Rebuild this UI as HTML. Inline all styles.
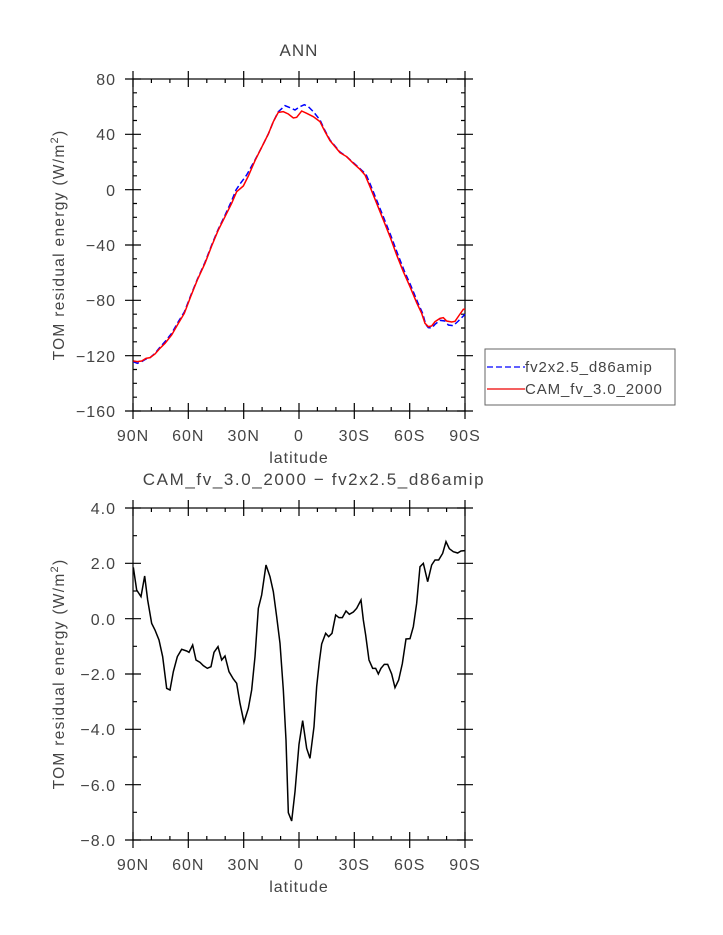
<!DOCTYPE html>
<html><head><style>body{margin:0;background:#fff}svg{display:block}text{font-family:"Liberation Sans",sans-serif;fill:#444}</style></head><body>
<svg width="723" height="935" viewBox="0 0 723 935" xmlns="http://www.w3.org/2000/svg">
<text x="299" y="56" font-size="17" text-anchor="middle" letter-spacing="1">ANN</text>
<text x="314" y="485" font-size="17" text-anchor="middle" letter-spacing="1.6">CAM_fv_3.0_2000 − fv2x2.5_d86amip</text>
<g id="ax1" stroke="#000" stroke-width="1.2">
<rect x="133" y="79" width="332" height="332" fill="none"/>
<path d="M125 79h16M125 134.3h16M125 189.7h16M125 245h16M125 300.3h16M125 355.7h16M125 411h16M457 79h16M457 134.3h16M457 189.7h16M457 245h16M457 300.3h16M457 355.7h16M457 411h16"/>
<path d="M133 92.8h4M133 106.7h4M133 120.5h4M133 148.2h4M133 162h4M133 175.8h4M133 203.5h4M133 217.3h4M133 231.2h4M133 258.8h4M133 272.7h4M133 286.5h4M133 314.2h4M133 328h4M133 341.8h4M133 369.5h4M133 383.3h4M133 397.2h4M461 92.8h4M461 106.7h4M461 120.5h4M461 148.2h4M461 162h4M461 175.8h4M461 203.5h4M461 217.3h4M461 231.2h4M461 258.8h4M461 272.7h4M461 286.5h4M461 314.2h4M461 328h4M461 341.8h4M461 369.5h4M461 383.3h4M461 397.2h4"/>
<path d="M133 71v16M188.3 71v16M243.7 71v16M299 71v16M354.3 71v16M409.7 71v16M465 71v16M133 403v16M188.3 403v16M243.7 403v16M299 403v16M354.3 403v16M409.7 403v16M465 403v16"/>
<path d="M151.4 79v4M169.9 79v4M206.8 79v4M225.2 79v4M262.1 79v4M280.6 79v4M317.4 79v4M335.9 79v4M372.8 79v4M391.2 79v4M428.1 79v4M446.6 79v4M151.4 411v-4M169.9 411v-4M206.8 411v-4M225.2 411v-4M262.1 411v-4M280.6 411v-4M317.4 411v-4M335.9 411v-4M372.8 411v-4M391.2 411v-4M428.1 411v-4M446.6 411v-4"/>
</g>
<g font-size="16" text-anchor="end" letter-spacing="1">
<text x="116" y="85">80</text><text x="116" y="140">40</text><text x="116" y="196">0</text><text x="116" y="251">−40</text><text x="116" y="306">−80</text><text x="116" y="362">−120</text><text x="116" y="417">−160</text>
</g>
<g font-size="16" text-anchor="middle" letter-spacing="1">
<text x="133" y="441">90N</text><text x="188.3" y="441">60N</text><text x="243.7" y="441">30N</text><text x="299" y="441">0</text><text x="354.3" y="441">30S</text><text x="409.7" y="441">60S</text><text x="465" y="441">90S</text>
<text x="299" y="463">latitude</text>
</g>
<text transform="translate(64,245) rotate(-90)" font-size="15.5" text-anchor="middle" letter-spacing="1.3">TOM residual energy (W/m<tspan dy="-6" font-size="11">2</tspan><tspan dy="6">)</tspan></text>
<g transform="translate(40,60) scale(0.33333)" fill="none" stroke-width="1.5">
<polyline vector-effect="non-scaling-stroke" stroke="#00f" stroke-dasharray="6 3" points="280,905 292,910 305,905 318,897 330,893 345,880 358,864 375,845 395,820 415,785 433,756 452,707 472,658 495,607 515,555 535,507 555,466 575,422 588,390 600,372 620,345 645,300 665,262 685,222 700,185 715,155 735,137 750,143 765,150 778,141 793,134 805,140 820,155 840,180 855,212 870,240 885,258 900,276 920,290 940,308 960,326 978,343 993,378 1013,428 1033,478 1053,528 1073,582 1093,633 1113,678 1133,727 1148,760 1157,793 1165,803 1175,804 1185,793 1200,781 1215,783 1225,795 1240,797 1255,783 1275,763"/>
<polyline vector-effect="non-scaling-stroke" stroke="#f00" points="280,903 292,905 305,903 318,895 330,893 345,882 358,867 375,850 395,825 415,790 433,760 452,710 472,660 495,610 515,558 535,510 555,470 575,430 590,395 610,378 625,348 645,302 665,262 685,222 700,185 715,157 730,155 745,162 760,174 770,172 785,153 800,160 820,170 840,185 855,215 870,242 885,260 900,278 920,290 940,310 960,328 975,345 990,380 1010,430 1030,480 1050,530 1070,585 1090,635 1110,680 1130,728 1145,760 1155,790 1165,800 1175,798 1185,785 1200,775 1210,773 1220,783 1235,786 1245,784 1258,765 1270,748 1275,747"/>
</g>
<rect x="485" y="349" width="190" height="56" fill="#fff" stroke="#666" stroke-width="1"/>
<line x1="487" y1="367" x2="525" y2="367" stroke="#00f" stroke-width="1.3" stroke-dasharray="6 3"/>
<line x1="487" y1="389" x2="525" y2="389" stroke="#e00" stroke-width="1.3"/>
<text x="525" y="372" font-size="15" letter-spacing="0.9">fv2x2.5_d86amip</text>
<text x="525" y="394" font-size="15" letter-spacing="0.9">CAM_fv_3.0_2000</text>
<g stroke="#000" stroke-width="1.2">
<rect x="133" y="508" width="332" height="332" fill="none"/>
<path d="M125 508h16M125 563.3h16M125 618.7h16M125 674h16M125 729.3h16M125 784.7h16M125 840h16M457 508h16M457 563.3h16M457 618.7h16M457 674h16M457 729.3h16M457 784.7h16M457 840h16"/>
<path d="M133 535.7h4M133 591h4M133 646.3h4M133 701.7h4M133 757h4M133 812.3h4M461 535.7h4M461 591h4M461 646.3h4M461 701.7h4M461 757h4M461 812.3h4"/>
<path d="M133 500v16M188.3 500v16M243.7 500v16M299 500v16M354.3 500v16M409.7 500v16M465 500v16M133 832v16M188.3 832v16M243.7 832v16M299 832v16M354.3 832v16M409.7 832v16M465 832v16"/>
<path d="M151.4 508v4M169.9 508v4M206.8 508v4M225.2 508v4M262.1 508v4M280.6 508v4M317.4 508v4M335.9 508v4M372.8 508v4M391.2 508v4M428.1 508v4M446.6 508v4M151.4 840v-4M169.9 840v-4M206.8 840v-4M225.2 840v-4M262.1 840v-4M280.6 840v-4M317.4 840v-4M335.9 840v-4M372.8 840v-4M391.2 840v-4M428.1 840v-4M446.6 840v-4"/>
</g>
<g font-size="16" text-anchor="end" letter-spacing="1">
<text x="116" y="514">4.0</text><text x="116" y="569">2.0</text><text x="116" y="625">0.0</text><text x="116" y="680">−2.0</text><text x="116" y="735">−4.0</text><text x="116" y="791">−6.0</text><text x="116" y="846">−8.0</text>
</g>
<g font-size="16" text-anchor="middle" letter-spacing="1">
<text x="133" y="870">90N</text><text x="188.3" y="870">60N</text><text x="243.7" y="870">30N</text><text x="299" y="870">0</text><text x="354.3" y="870">30S</text><text x="409.7" y="870">60S</text><text x="465" y="870">90S</text>
<text x="299" y="892">latitude</text>
</g>
<text transform="translate(64,674) rotate(-90)" font-size="15.5" text-anchor="middle" letter-spacing="1.3">TOM residual energy (W/m<tspan dy="-6" font-size="11">2</tspan><tspan dy="6">)</tspan></text>
<g transform="translate(40,490) scale(0.33333)" fill="none">
<polyline vector-effect="non-scaling-stroke" stroke="#000" stroke-width="1.5" points="280,232 290,300 303,320 314,258 323,330 335,400 345,420 357,450 368,500 380,595 390,600 400,545 412,500 425,478 440,483 447,487 458,465 468,510 480,517 490,527 502,535 513,530 522,487 534,470 545,510 555,498 567,545 580,567 590,580 600,640 612,697 625,655 635,600 645,500 655,355 665,315 678,225 690,260 700,305 710,380 720,460 730,600 738,750 745,968 755,993 765,905 777,763 788,692 800,775 810,805 822,710 830,590 838,515 845,462 857,430 866,440 876,430 887,375 897,383 907,383 918,363 928,373 940,366 950,355 963,330 970,390 977,435 987,510 998,535 1007,535 1015,552 1023,535 1033,523 1043,523 1055,552 1065,593 1076,570 1087,521 1098,447 1110,446 1120,410 1130,340 1140,230 1150,220 1163,275 1175,225 1185,210 1196,210 1208,190 1218,155 1228,176 1240,185 1253,189 1263,183 1275,182"/>
</g>
</svg>
</body></html>
